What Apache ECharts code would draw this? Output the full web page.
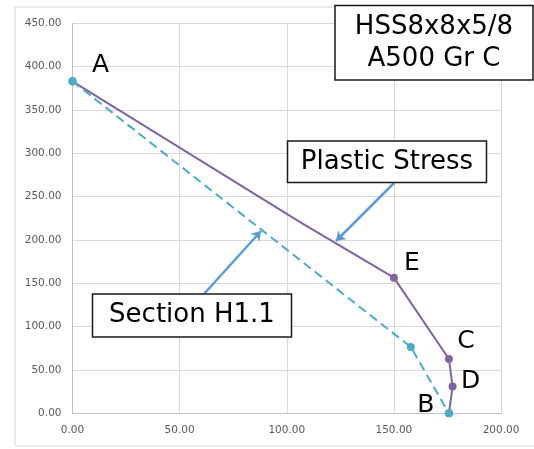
<!DOCTYPE html>
<html>
<head>
<meta charset="utf-8">
<script src="https://cdn.jsdelivr.net/npm/echarts@6/dist/echarts.min.js"></script>
<style>
  html, body { margin: 0; padding: 0; background: #fff; }
  #chart { width: 534px; height: 449px; }
</style>
</head>
<body>
<div id="chart"></div>
<script>
  // plastic stress interaction curve (purple)
  const plasticX = [0, 107, 150, 175.7, 177.4, 175.7]
  const plasticY = [383, 219.5, 156.5, 62.7, 31, 0]
  const plasticTags = ['', '', 'E', 'C', 'D', '']
  // section H1.1 curve (cyan, dashed)
  const sectionX = [0, 157.9, 175.7]
  const sectionY = [383, 76.5, 0]
  const sectionTags = ['A', '', 'B']
  const xTicks = [0, 50, 100, 150, 200]
  const yTicks = [0, 50, 100, 150, 200, 250, 300, 350, 400, 450]

  const font = 'DejaVu Sans'
  const tagOffset = {
    A: [28, -16], E: [18, -14], C: [17, -17], D: [18, -5], B: [-23, -8]
  }

  function buildData (xs, ys, tags, hidden) {
    return xs.map((x, i) => {
      const item = { value: [x, ys[i]] }
      if (hidden.indexOf(i) >= 0) item.symbolSize = 0
      if (tags[i]) {
        item.label = {
          show: true,
          formatter: tags[i],
          position: 'inside',
          offset: tagOffset[tags[i]],
          fontFamily: font,
          fontSize: 25,
          color: '#000'
        }
      }
      return item
    })
  }

  function box (x, y, w, h, text) {
    return {
      type: 'group',
      children: [
        {
          type: 'rect',
          shape: { x: x, y: y, width: w, height: h },
          style: { fill: '#fff', stroke: '#1a1a1a', lineWidth: 1.5 },
          z: 100
        },
        {
          type: 'text',
          x: x + w / 2,
          y: y + h / 2,
          style: {
            text: text,
            fontFamily: font,
            fontSize: 26,
            lineHeight: 32,
            fill: '#000',
            align: 'center',
            verticalAlign: 'middle'
          },
          z: 101
        }
      ]
    }
  }

  const chart = echarts.init(document.getElementById('chart'))
  const option = {
    backgroundColor: '#fff',
    animation: false,
    grid: { left: 72.5, right: 33, top: 23.3, bottom: 35.7 },
    xAxis: {
      type: 'value',
      min: xTicks[0],
      max: xTicks[xTicks.length - 1],
      interval: 50,
      axisLine: { lineStyle: { color: '#bfbfbf', width: 1 } },
      axisTick: { show: false },
      axisLabel: {
        margin: 11,
        color: '#595959',
        fontFamily: font,
        fontSize: 10.5,
        formatter: v => v.toFixed(2)
      },
      splitLine: { lineStyle: { color: '#d9d9d9', width: 1 } }
    },
    yAxis: {
      type: 'value',
      min: yTicks[0],
      max: yTicks[yTicks.length - 1],
      interval: 50,
      axisLine: { show: true, lineStyle: { color: '#bfbfbf', width: 1 } },
      axisTick: { show: false },
      axisLabel: {
        margin: 11,
        color: '#595959',
        fontFamily: font,
        fontSize: 10.5,
        formatter: v => v.toFixed(2)
      },
      splitLine: { lineStyle: { color: '#d9d9d9', width: 1 } }
    },
    series: [
      {
        name: 'Plastic Stress',
        type: 'line',
        data: buildData(plasticX, plasticY, plasticTags, [1]),
        symbol: 'circle',
        symbolSize: 8,
        showAllSymbol: true,
        lineStyle: { color: '#8064a2', width: 2 },
        itemStyle: { color: '#8064a2' },
        z: 2,
        markLine: {
          silent: true,
          symbol: ['none', 'arrow'],
          symbolSize: 9,
          label: { show: false },
          lineStyle: { color: '#5b9bd5', width: 2.5, type: 'solid' },
          data: [
            [{ x: 394, y: 183 }, { x: 336, y: 241 }],
            [{ x: 204, y: 294 }, { x: 261, y: 231 }]
          ]
        }
      },
      {
        name: 'Section H1.1',
        type: 'line',
        data: buildData(sectionX, sectionY, sectionTags, []),
        symbol: 'circle',
        symbolSize: 8,
        showAllSymbol: true,
        lineStyle: { color: '#4bacc6', width: 2, type: [9, 5] },
        itemStyle: { color: '#4bacc6' },
        z: 3
      }
    ],
    graphic: [
      {
        type: 'rect',
        shape: { x: 15, y: 7, width: 530, height: 439 },
        style: { fill: 'none', stroke: '#d9d9d9', lineWidth: 1 },
        silent: true,
        z: -1
      },
      box(335, 5.5, 198, 74.5, 'HSS8x8x5/8\nA500 Gr C'),
      box(287.5, 141, 199, 41.5, 'Plastic Stress'),
      box(92.5, 294, 199, 43, 'Section H1.1')
    ]
  }
  chart.setOption(option)
</script>
</body>
</html>
